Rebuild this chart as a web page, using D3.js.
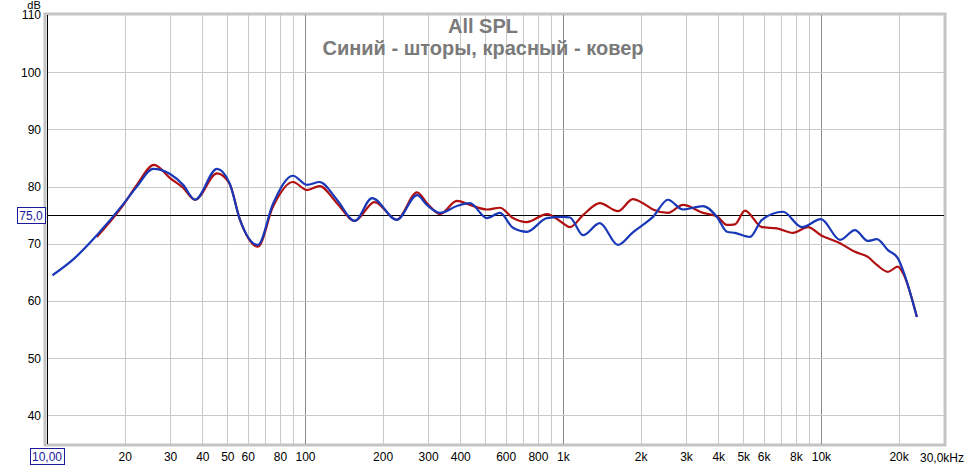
<!DOCTYPE html>
<html>
<head>
<meta charset="utf-8">
<script src="https://cdn.jsdelivr.net/npm/d3@7"></script>
<style>
  body { margin: 0; background: #fff; }
  svg { font-family: "Liberation Sans", Arial, sans-serif; }
</style>
</head>
<body>
<div class="graph"></div>
<script>
// values (Hz, dB)
var blueFreq = [10.5, 12.8, 15.6, 19.9, 22.3, 25.8, 30, 33.7, 37.5, 45.6, 51, 56, 65.7, 75.2, 89.8, 101.8, 114, 133, 156, 182, 227, 272, 297, 334, 388, 436, 507, 570, 640, 725, 867, 1000, 1064, 1196, 1390, 1633, 1867, 2042, 2233, 2553, 2918, 3491, 3953, 4325, 4643, 5310, 5908, 7130, 8437, 10000, 11860, 13550, 15210, 16480, 18190, 19860, 20790, 23550];
var blueDb = [64.5, 67.5, 71.5, 77.1, 80.0, 83.1, 82.2, 80.3, 77.7, 83.1, 80.6, 74.2, 69.8, 77, 81.9, 80.3, 80.8, 77.7, 74, 78, 74.2, 78.5, 76.8, 75.4, 76.6, 77.1, 74.5, 75.4, 72.8, 72.1, 74.5, 74.7, 74.6, 71.5, 73.6, 69.8, 72, 73.3, 74.7, 77.7, 76, 76.6, 74.7, 72.1, 71.9, 71.2, 74.2, 75.6, 72.9, 74.3, 70.7, 72.4, 70.5, 70.8, 68.9, 67.5, 65.4, 57.2];

var redFreq = [15.6, 19.9, 22.3, 26, 30, 33.7, 37.5, 45.6, 51, 56, 65.7, 75.2, 89.8, 101.8, 114, 133, 156, 186, 227, 272, 297, 334, 388, 436, 507, 570, 640, 725, 867, 1000, 1064, 1196, 1390, 1633, 1867, 2042, 2233, 2553, 2918, 3491, 3953, 4325, 4643, 5075, 5908, 6745, 7785, 8913, 10000, 11860, 13550, 15210, 16480, 18190, 19860, 20790, 23550];
var redDb = [71.2, 77, 80.3, 83.8, 81.5, 79.8, 77.7, 82.3, 80.5, 74.2, 69.5, 76.5, 80.8, 79.4, 80.1, 77.1, 74, 77.3, 74.2, 79, 77.1, 75.2, 77.5, 76.8, 76, 76.3, 74.5, 73.8, 75.2, 73.6, 72.9, 75, 77.1, 75.7, 77.8, 77.1, 76, 75.4, 76.8, 75.4, 74.8, 73.3, 73.4, 75.8, 72.9, 72.7, 71.9, 72.9, 71.5, 70.1, 68.6, 67.7, 66.3, 65.1, 66, 64.9, 57.2];

var xTicks = [20, 30, 40, 50, 60, 70, 80, 90, 100, 200, 300, 400, 500, 600, 700, 800, 900, 1000, 2000, 3000, 4000, 5000, 6000, 7000, 8000, 9000, 10000, 20000];
var xLabels = {20: "20", 30: "30", 40: "40", 50: "50", 60: "60", 80: "80", 100: "100", 200: "200", 300: "300", 400: "400", 600: "600", 800: "800", 1000: "1k", 2000: "2k", 3000: "3k", 4000: "4k", 5000: "5k", 6000: "6k", 8000: "8k", 10000: "10k", 20000: "20k"};
var yTicks = [40, 50, 60, 70, 80, 90, 100, 110];

var W = 966, H = 467;
var pLeft = 47, pRight = 944, pTop = 15, pBottom = 444;

var svg = d3.select(".graph").append("svg")
    .attr("width", W)
    .attr("height", H);

var x = d3.scaleLog().domain([10, 30000]).range([pLeft, pRight]);
var y = d3.scaleLinear().domain([35, 110]).range([pBottom, pTop]);

// frame shadow
svg.append("rect")
    .attr("x", pLeft - 2).attr("y", pTop - 1)
    .attr("width", pRight - pLeft + 3).attr("height", pBottom - pTop + 2)
    .attr("fill", "none")
    .attr("stroke", "#c4c4c4")
    .attr("stroke-width", 3);

// vertical grid
svg.append("g").selectAll("line")
    .data(xTicks)
    .enter().append("line")
    .attr("x1", function (d) { return Math.round(x(d)) + 0.5; })
    .attr("x2", function (d) { return Math.round(x(d)) + 0.5; })
    .attr("y1", pTop).attr("y2", pBottom)
    .attr("stroke", function (d) { return (d == 100 || d == 1000 || d == 10000) ? "#8c8c8c" : "#c8c8c8"; })
    .attr("stroke-width", 1);

// horizontal grid
svg.append("g").selectAll("line")
    .data(yTicks.slice(0, -1))
    .enter().append("line")
    .attr("x1", pLeft).attr("x2", pRight)
    .attr("y1", function (d) { return Math.round(y(d)) + 0.5; })
    .attr("y2", function (d) { return Math.round(y(d)) + 0.5; })
    .attr("stroke", "#c8c8c8");

// 75 dB reference line
svg.append("line")
    .attr("x1", pLeft).attr("x2", pRight)
    .attr("y1", Math.round(y(75)) + 0.5).attr("y2", Math.round(y(75)) + 0.5)
    .attr("stroke", "#000");

// left axis line
svg.append("line")
    .attr("x1", pLeft + 0.5).attr("x2", pLeft + 0.5)
    .attr("y1", pTop).attr("y2", pBottom)
    .attr("stroke", "#000");

// axes labels
var xAxis = d3.axisBottom(x)
    .tickValues(Object.keys(xLabels).map(Number))
    .tickFormat(function (d) { return xLabels[d]; })
    .tickSize(0).tickPadding(8);
svg.append("g")
    .attr("transform", "translate(0," + pBottom + ")")
    .call(xAxis)
    .call(function (g) { g.select(".domain").remove(); })
    .selectAll("text")
    .style("font-size", "12px")
    .attr("fill", "#000");

var yAxis = d3.axisLeft(y).tickValues(yTicks).tickSize(0).tickPadding(6);
svg.append("g")
    .attr("transform", "translate(" + pLeft + ",0)")
    .call(yAxis)
    .call(function (g) { g.select(".domain").remove(); })
    .selectAll("text")
    .style("font-size", "12px")
    .attr("fill", "#000");

svg.append("text")
    .attr("x", 964).attr("y", 462)
    .attr("text-anchor", "end")
    .style("font-size", "12px")
    .text("30,0kHz");

svg.append("text")
    .attr("x", 34).attr("y", 9)
    .attr("text-anchor", "middle")
    .style("font-size", "11px")
    .text("dB");

// boxed cursor values
function boxLabel(cx, cy, w, txt) {
    svg.append("rect")
        .attr("x", cx - w / 2 + 0.5).attr("y", cy - 8 + 0.5)
        .attr("width", w).attr("height", 16)
        .attr("fill", "#fff")
        .attr("stroke", "#1a1a9a");
    svg.append("text")
        .attr("x", cx).attr("y", cy + 4.5)
        .attr("text-anchor", "middle")
        .attr("fill", "#1a1a9a")
        .style("font-size", "12px")
        .text(txt);
}
boxLabel(47, 456, 34, "10,00");
boxLabel(31, Math.round(y(75)), 28, "75,0");

// titles
svg.append("text")
    .attr("x", 483).attr("y", 33)
    .attr("text-anchor", "middle")
    .attr("fill", "#7a7a7a")
    .style("font-size", "20px").style("font-weight", "bold")
    .text("All SPL");
svg.append("text")
    .attr("x", 483).attr("y", 55)
    .attr("text-anchor", "middle")
    .attr("fill", "#7a7a7a")
    .style("font-size", "20px").style("font-weight", "bold")
    .text("Синий - шторы, красный - ковер");

// curves
var line = d3.line()
    .x(function (d) { return x(d[0]); })
    .y(function (d) { return y(d[1]); })
    .curve(d3.curveMonotoneX);

svg.append("path")
    .datum(d3.zip(redFreq, redDb))
    .attr("d", line)
    .attr("fill", "none")
    .attr("stroke", "#b01010")
    .attr("stroke-width", 2.2);

svg.append("path")
    .datum(d3.zip(blueFreq, blueDb))
    .attr("d", line)
    .attr("fill", "none")
    .attr("stroke", "#1838b8")
    .attr("stroke-width", 2.2);
</script>
</body>
</html>
